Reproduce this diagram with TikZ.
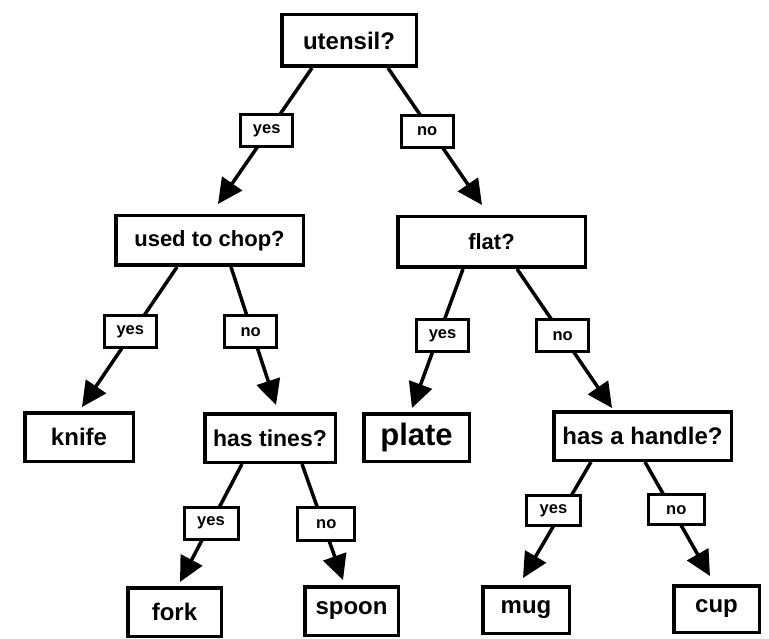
\documentclass[tikz,border=0pt]{standalone}
\usepackage{fontspec}
\setmainfont{Liberation Sans}
\usetikzlibrary{arrows.meta}

\begin{document}
\begin{tikzpicture}
    [
        x=1pt,y=-1pt,
        box/.style={rectangle,draw=black,line width=3.5pt,inner sep=0,font=\bfseries\fontsize{24}{28}\selectfont},
        answer/.style={rectangle,fill=white,draw=black,line width=3pt,inner sep=0,minimum width=52pt,minimum height=32pt,font=\bfseries\fontsize{16.5}{18}\selectfont},
        edge/.style={-{Triangle[length=25pt,width=24pt]},line width=3.5pt,draw=black},
    ]
    \useasboundingbox (0,0) rectangle (769,639);
    % questions
    \draw (349,40.5) node[box,minimum width=134.5pt,minimum height=51.5pt] (utensil) {utensil?};
    \draw (209.5,240.5) node[box,minimum width=187.5pt,minimum height=49.5pt,font=\bfseries\fontsize{22}{26}\selectfont] (chop) {used to chop?};
    \draw (491.5,242) node[box,minimum width=187.5pt,minimum height=50.5pt,font=\bfseries\fontsize{22}{26}\selectfont] (flat) {flat?};
    \draw (270,438) node[box,minimum width=130.5pt,minimum height=48.5pt,font=\bfseries\fontsize{23}{27}\selectfont] (tines) {has tines?};
    \draw (642.5,436) node[box,minimum width=177.5pt,minimum height=48.5pt] (handle) {has a handle?};
    % objects
    \draw (79,437) node[box,minimum width=108.5pt,minimum height=48.5pt] (knife) {knife};
    \draw (416.5,437.5) node[box,minimum width=105.5pt,minimum height=47.5pt,font=\bfseries\fontsize{31}{35}\selectfont] (plate) {plate};
    \draw (174.5,612) node[box,minimum width=93.5pt,minimum height=48.5pt] (fork) {fork};
    \draw (351.5,611) node[box,minimum width=93.5pt,minimum height=48.5pt] (spoon) {spoon};
    \draw (526,610) node[box,minimum width=86.5pt,minimum height=46.5pt] (mug) {mug};
    \draw (716.5,609) node[box,minimum width=85.5pt,minimum height=46.5pt] (cup) {cup};
    % branches
    \draw[edge] ([xshift=-37pt]utensil.south) -- node[answer,pos=.46,xshift=-2pt] (utensilyes) {yes} ([xshift=8.5pt,yshift=10pt]chop.north);
    \draw[edge] ([xshift=39pt]utensil.south) -- node[answer,pos=.46,xshift=-4pt] (utensilno) {no} ([xshift=-9.5pt,yshift=10pt]flat.north);
    \draw[edge] ([xshift=-32.5pt]chop.south) -- node[answer,pos=.46,xshift=-3pt] (chopyes) {yes} ([xshift=3pt,yshift=4pt]knife.north);
    \draw[edge] ([xshift=21.5pt]chop.south) -- node[answer,pos=.47,xshift=-1.5pt] (chopno) {no} ([xshift=6pt,yshift=7pt]tines.north);
    \draw[edge] ([xshift=-28.5pt]flat.south) -- node[answer,pos=.48,xshift=4pt] (flatyes) {yes} ([xshift=-4.5pt,yshift=4pt]plate.north);
    \draw[edge] ([xshift=25.5pt]flat.south) -- node[answer,pos=.48] (flatno) {no} ([xshift=-30.5pt,yshift=2pt]handle.north);
    \draw[edge] ([xshift=-28pt]tines.south) -- node[answer,pos=.5,minimum width=54pt] (tinesyes) {yes} ([xshift=5.5pt,yshift=4pt]fork.north);
    \draw[edge] ([xshift=32pt]tines.south) -- node[answer,pos=.52,xshift=3pt,minimum width=57pt,minimum height=33pt] (tinesno) {no} ([xshift=-8.5pt,yshift=5pt]spoon.north);
    \draw[edge] ([xshift=-51.5pt]handle.south) -- node[answer,pos=.42,xshift=-9pt,minimum width=54pt,minimum height=30pt] (handleyes) {yes} ([xshift=-3pt,yshift=7pt]mug.north);
    \draw[edge] ([xshift=2.5pt]handle.south) -- node[answer,pos=.42,xshift=4pt,minimum width=56pt,minimum height=30pt] (handleno) {no} ([xshift=-6.5pt,yshift=8pt]cup.north);
\end{tikzpicture}
\end{document}
